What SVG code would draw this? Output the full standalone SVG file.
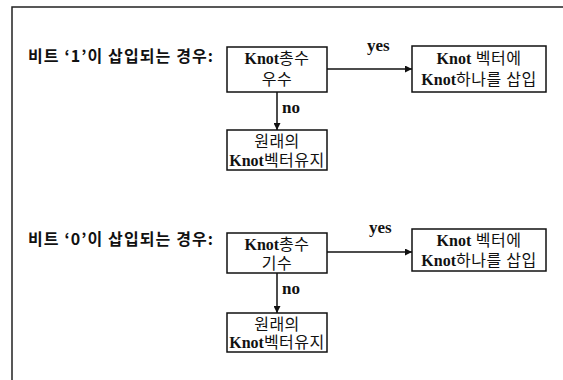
<svg xmlns="http://www.w3.org/2000/svg" width="563" height="380" viewBox="0 0 563 380">
<style>
.box{fill:#fff;stroke:#111;stroke-width:1.5}
.t{font-family:"Liberation Serif","Noto Sans CJK KR",serif;font-size:16px;fill:#111;text-anchor:middle;letter-spacing:0.5px}
.k{font-weight:bold;letter-spacing:0}
.lbl{font-family:"Noto Sans CJK KR","Liberation Sans",sans-serif;font-size:16px;font-weight:bold;fill:#111}
.yn{font-family:"Liberation Serif",serif;font-size:17px;font-weight:bold;fill:#111}
.edge{stroke:#111;stroke-width:1.5;fill:none;marker-end:url(#ah)}
</style>
<defs>
<marker id="ah" viewBox="0 0 10 10" refX="10" refY="5" markerWidth="7" markerHeight="7" markerUnits="userSpaceOnUse" orient="auto">
<path d="M0,0 L10,5 L0,10 z" fill="#111"/>
</marker>
</defs>
<rect width="563" height="380" fill="#fff"/>
<g id="frame">
<path d="M12,380 L12,7 L563,7" stroke="#222" stroke-width="1.5" fill="none"/>
</g>
<g id="label1"><text class="lbl" x="28" y="62" textLength="185" lengthAdjust="spacing">비트 ‘1’이 삽입되는 경우:</text></g>
<g id="label0"><text class="lbl" x="28" y="245" textLength="185" lengthAdjust="spacing">비트 ‘0’이 삽입되는 경우:</text></g>
<g id="connectors">
<path class="edge" d="M327,69 L412,69"/>
<path class="edge" d="M277,92 L277,130"/>
<path class="edge" d="M327,252 L412,252"/>
<path class="edge" d="M277,273 L277,313"/>
<text class="yn" x="367" y="51">yes</text>
<text class="yn" x="282" y="113">no</text>
<text class="yn" x="369" y="233">yes</text>
<text class="yn" x="282" y="294">no</text>
</g>
<g id="cond1">
<rect class="box" x="227" y="47" width="100" height="45"/>
<text class="t" x="277" y="64"><tspan class="k">Knot</tspan>총수</text>
<text class="t" x="277" y="85">우수</text>
</g>
<g id="insert1">
<rect class="box" x="412" y="46" width="134" height="46"/>
<text class="t" x="479" y="64"><tspan class="k">Knot</tspan> 벡터에</text>
<text class="t" x="479" y="85"><tspan class="k">Knot</tspan>하나를 삽입</text>
</g>
<g id="keep1">
<rect class="box" x="227" y="130" width="100" height="40"/>
<text class="t" x="277" y="147">원래의</text>
<text class="t" x="277" y="166"><tspan class="k">Knot</tspan>벡터유지</text>
</g>
<g id="cond0">
<rect class="box" x="227" y="233" width="100" height="40"/>
<text class="t" x="277" y="250"><tspan class="k">Knot</tspan>총수</text>
<text class="t" x="277" y="269">기수</text>
</g>
<g id="insert0">
<rect class="box" x="412" y="229" width="134" height="42"/>
<text class="t" x="479" y="246"><tspan class="k">Knot</tspan> 벡터에</text>
<text class="t" x="479" y="266"><tspan class="k">Knot</tspan>하나를 삽입</text>
</g>
<g id="keep0">
<rect class="box" x="227" y="313" width="100" height="39"/>
<text class="t" x="277" y="330">원래의</text>
<text class="t" x="277" y="348"><tspan class="k">Knot</tspan>벡터유지</text>
</g>
</svg>
